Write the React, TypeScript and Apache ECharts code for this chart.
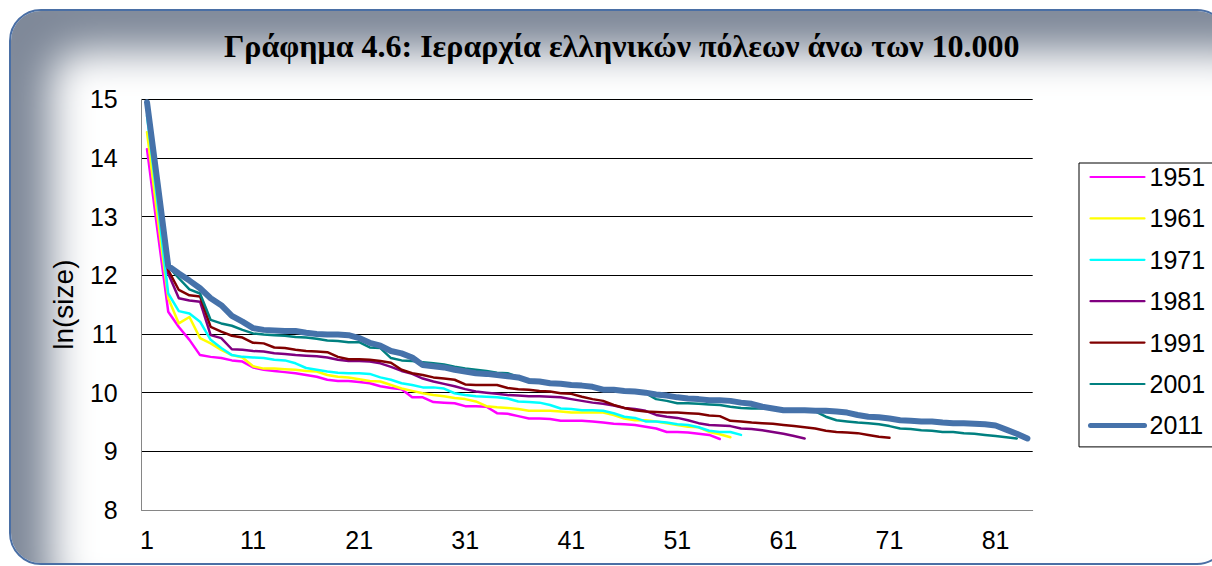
import React, { useEffect, useRef } from "react";
import * as echarts from "echarts";

const TITLE = "Γράφημα 4.6: Ιεραρχία ελληνικών πόλεων άνω των 10.000";
const Y_NAME = "ln(size)";
const RANKS: string[] = Array.from({ length: 84 }, (_, i) => String(i + 1));

const s1951 = [14.15, 12.75, 11.38, 11.12, 10.9, 10.64, 10.61, 10.59, 10.55, 10.53, 10.43, 10.39, 10.37, 10.35, 10.33, 10.3, 10.27, 10.22, 10.2, 10.2, 10.18, 10.16, 10.11, 10.08, 10.06, 9.92, 9.92, 9.84, 9.83, 9.82, 9.77, 9.77, 9.76, 9.65, 9.64, 9.6, 9.56, 9.56, 9.55, 9.52, 9.52, 9.52, 9.51, 9.49, 9.47, 9.46, 9.45, 9.42, 9.39, 9.33, 9.33, 9.32, 9.3, 9.28, 9.21];
const s1961 = [14.44, 12.98, 11.61, 11.18, 11.29, 10.93, 10.84, 10.73, 10.64, 10.6, 10.45, 10.41, 10.41, 10.4, 10.39, 10.37, 10.36, 10.3, 10.27, 10.26, 10.23, 10.2, 10.19, 10.13, 10.07, 10.03, 9.99, 9.96, 9.94, 9.91, 9.89, 9.85, 9.77, 9.75, 9.74, 9.72, 9.69, 9.69, 9.69, 9.68, 9.66, 9.66, 9.66, 9.66, 9.62, 9.56, 9.53, 9.53, 9.51, 9.48, 9.45, 9.42, 9.41, 9.33, 9.29, 9.24];
const s1971 = [14.72, 13.22, 11.69, 11.39, 11.35, 11.21, 10.9, 10.76, 10.64, 10.61, 10.6, 10.59, 10.56, 10.55, 10.5, 10.42, 10.39, 10.36, 10.34, 10.33, 10.33, 10.32, 10.26, 10.22, 10.16, 10.13, 10.09, 10.09, 10.07, 9.99, 9.96, 9.94, 9.93, 9.92, 9.9, 9.85, 9.84, 9.83, 9.79, 9.73, 9.72, 9.7, 9.7, 9.69, 9.65, 9.59, 9.57, 9.51, 9.51, 9.49, 9.46, 9.45, 9.41, 9.35, 9.33, 9.33, 9.28];
const s1981 = [14.88, 13.47, 12.03, 11.61, 11.57, 11.55, 10.98, 10.93, 10.74, 10.73, 10.71, 10.7, 10.67, 10.66, 10.64, 10.63, 10.62, 10.6, 10.56, 10.54, 10.54, 10.53, 10.5, 10.44, 10.37, 10.32, 10.24, 10.19, 10.15, 10.11, 10.06, 10.02, 10.0, 9.98, 9.96, 9.95, 9.94, 9.94, 9.93, 9.92, 9.89, 9.86, 9.83, 9.81, 9.78, 9.74, 9.72, 9.69, 9.62, 9.59, 9.57, 9.53, 9.48, 9.45, 9.44, 9.43, 9.39, 9.38, 9.36, 9.33, 9.3, 9.26, 9.22];
const s1991 = [14.93, 13.53, 12.09, 11.75, 11.66, 11.64, 11.12, 11.04, 10.97, 10.94, 10.85, 10.84, 10.77, 10.76, 10.73, 10.71, 10.7, 10.69, 10.61, 10.57, 10.57, 10.56, 10.54, 10.51, 10.39, 10.33, 10.3, 10.26, 10.24, 10.22, 10.14, 10.13, 10.13, 10.13, 10.08, 10.06, 10.05, 10.03, 10.02, 9.99, 9.98, 9.93, 9.89, 9.86, 9.79, 9.74, 9.7, 9.68, 9.67, 9.66, 9.66, 9.65, 9.64, 9.61, 9.6, 9.52, 9.51, 9.49, 9.48, 9.47, 9.45, 9.43, 9.41, 9.39, 9.35, 9.33, 9.32, 9.31, 9.28, 9.25, 9.23];
const s2001 = [14.97, 13.56, 12.15, 11.95, 11.76, 11.69, 11.24, 11.18, 11.14, 11.07, 11.01, 10.99, 10.98, 10.97, 10.95, 10.94, 10.92, 10.89, 10.88, 10.86, 10.86, 10.77, 10.76, 10.59, 10.55, 10.54, 10.52, 10.5, 10.48, 10.44, 10.41, 10.39, 10.37, 10.34, 10.33, 10.27, 10.22, 10.2, 10.17, 10.15, 10.13, 10.12, 10.1, 10.06, 10.05, 10.03, 10.02, 9.99, 9.89, 9.86, 9.82, 9.82, 9.81, 9.8, 9.79, 9.76, 9.74, 9.73, 9.73, 9.72, 9.7, 9.7, 9.69, 9.68, 9.59, 9.53, 9.51, 9.49, 9.48, 9.46, 9.43, 9.39, 9.38, 9.36, 9.35, 9.33, 9.33, 9.31, 9.3, 9.28, 9.26, 9.24, 9.22];
const s2011 = [14.95, 13.57, 12.16, 12.03, 11.91, 11.78, 11.61, 11.49, 11.31, 11.21, 11.1, 11.07, 11.06, 11.05, 11.05, 11.02, 11.0, 10.99, 10.99, 10.98, 10.93, 10.85, 10.8, 10.71, 10.67, 10.6, 10.47, 10.45, 10.43, 10.39, 10.36, 10.33, 10.32, 10.3, 10.28, 10.26, 10.2, 10.19, 10.16, 10.15, 10.13, 10.12, 10.1, 10.05, 10.05, 10.03, 10.02, 10.0, 9.97, 9.95, 9.92, 9.9, 9.89, 9.87, 9.87, 9.86, 9.83, 9.81, 9.76, 9.73, 9.7, 9.7, 9.7, 9.69, 9.69, 9.68, 9.66, 9.62, 9.59, 9.58, 9.56, 9.53, 9.52, 9.51, 9.51, 9.49, 9.48, 9.48, 9.47, 9.46, 9.44, 9.37, 9.3, 9.22];

const SERIES_NAMES = ["1951", "1961", "1971", "1981", "1991", "2001", "2011"];
const SERIES_DATA = [s1951, s1961, s1971, s1981, s1991, s2001, s2011];
const SERIES_COLORS = ["#FF00FF", "#FFFF00", "#00FFFF", "#800080", "#800000", "#008080", "#4672AA"];
const SERIES_WIDTHS = [2.5, 2.5, 2.5, 2.5, 2.5, 2.5, 6];
const LEGEND_WIDTHS = [2.2, 2.2, 2.2, 2.2, 2.2, 2.2, 5];

export default function App() {
  const ref = useRef<HTMLDivElement>(null);

  useEffect(() => {
    if (!ref.current) return;
    const chart = echarts.init(ref.current, null, { renderer: "svg", width: 1212, height: 566 });
    chart.setOption({
      animation: false,
      backgroundColor: "transparent",
      title: {
        text: TITLE,
        left: 219,
        top: 25,
        textStyle: {
          fontFamily: "Liberation Serif",
          fontWeight: "bold",
          fontSize: 32,
          color: "#000",
        },
      },
      grid: { left: 141.7, right: 179.3, top: 99.3, bottom: 56, containLabel: false, show: true, backgroundColor: "#fff", borderWidth: 0 },
      legend: {
        orient: "vertical",
        left: 1079,
        top: 163,
        padding: [1.5, 40, 9, 9],
        itemWidth: 54,
        itemHeight: 14,
        itemGap: 16.4,
        backgroundColor: "#fff",
        borderColor: "#000",
        borderWidth: 1,
        borderRadius: 0,
        data: SERIES_NAMES.map((name, i) => ({
          name,
          itemStyle: { opacity: 0 },
          lineStyle: { width: LEGEND_WIDTHS[i], color: SERIES_COLORS[i], cap: "round" },
        })),
        itemStyle: { opacity: 0 },
        textStyle: { fontFamily: "Liberation Sans", fontSize: 25, color: "#000", lineHeight: 25 },
      },
      xAxis: {
        type: "category",
        data: RANKS,
        boundaryGap: true,
        axisLine: { lineStyle: { color: "#868686", width: 1 } },
        axisTick: { show: false },
        axisLabel: {
          interval: 9,
          margin: 17,
          fontFamily: "Liberation Sans",
          fontSize: 25,
          color: "#000",
        },
      },
      yAxis: {
        type: "value",
        min: 8,
        max: 15,
        interval: 1,
        name: Y_NAME,
        nameLocation: "middle",
        nameGap: 64,
        nameTextStyle: { fontFamily: "Liberation Sans", fontSize: 28, color: "#000" },
        axisLine: { show: true, lineStyle: { color: "#868686", width: 1 } },
        axisTick: { show: false },
        splitLine: { lineStyle: { color: "#000", width: 1 } },
        axisLabel: {
          margin: 24,
          fontFamily: "Liberation Sans",
          fontSize: 25,
          color: "#000",
        },
      },
      series: SERIES_NAMES.map((name, i) => ({
        name,
        type: "line",
        data: SERIES_DATA[i],
        symbol: "none",
        smooth: false,
        color: SERIES_COLORS[i],
        lineStyle: { color: SERIES_COLORS[i], width: SERIES_WIDTHS[i], cap: "round", join: "round" },
        z: 2 + i,
      })),
    });
    return () => chart.dispose();
  }, []);

  return (
    <div style={{ position: "fixed", left: 0, top: 0, width: 1212, height: 566, overflow: "hidden", background: "#fff" }}>
      <div
        style={{
          position: "absolute",
          left: 9,
          top: 9,
          width: 1220,
          height: 556,
          border: "2.5px solid #4a6fa5",
          borderRadius: 32,
          boxShadow: "inset 40px 40px 40px 0px #7f8999",
          boxSizing: "border-box",
          background: "#fff",
        }}
      />
      <div ref={ref} style={{ position: "absolute", left: 0, top: 0, width: 1212, height: 566 }} />
    </div>
  );
}
